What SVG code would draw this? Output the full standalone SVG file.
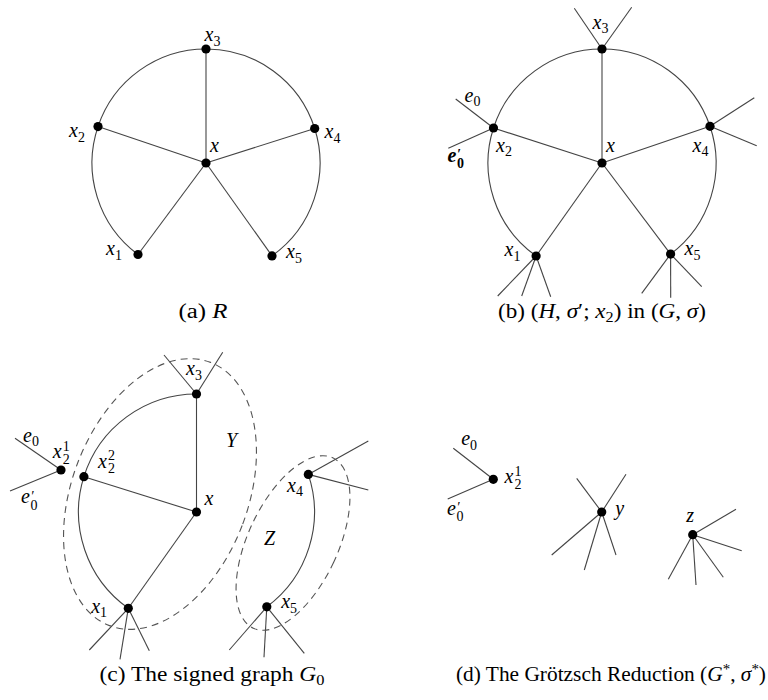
<svg xmlns="http://www.w3.org/2000/svg" width="768" height="700" viewBox="0 0 768 700">
<style>
.e{stroke:#444;stroke-width:1.1;fill:none}
.d{stroke:#555;stroke-width:1.1;fill:none;stroke-dasharray:7 5}
.n{fill:#000}
.t{font-family:"Liberation Serif",serif;font-style:italic;font-size:20px;fill:#000}
.b{font-weight:bold}
.s{font-style:normal;font-size:14px}
.c{font-family:"Liberation Serif",serif;font-size:20px;fill:#000}
.i{font-style:italic}
</style>
<rect width="768" height="700" fill="#fff"/>

<!-- Panel (a) -->
<g id="panel-a-edges" class="connectors">
<path class="e" d="M138 254.5 A114 114 0 0 1 98 126.6"/>
<path class="e" d="M98 126.6 A114 114 0 0 1 206 49"/>
<path class="e" d="M206 49 A114 114 0 0 1 314.7 128.5"/>
<path class="e" d="M314.7 128.5 A114 114 0 0 1 272 255.9"/>
<line class="e" x1="206" y1="163" x2="206" y2="49"/>
<line class="e" x1="206" y1="163" x2="98" y2="126.6"/>
<line class="e" x1="206" y1="163" x2="314.7" y2="128.5"/>
<line class="e" x1="206" y1="163" x2="138" y2="254.5"/>
<line class="e" x1="206" y1="163" x2="272" y2="255.9"/>
</g>
<g id="a-x"><circle class="n" cx="206" cy="163" r="4.6"/><text class="t" x="210" y="151.5">x</text></g>
<g id="a-x3"><circle class="n" cx="206" cy="49" r="4.6"/><text class="t" x="204.5" y="41">x<tspan class="s" dy="4.5">3</tspan></text></g>
<g id="a-x2"><circle class="n" cx="98" cy="126.6" r="4.6"/><text class="t" x="69" y="137">x<tspan class="s" dy="4.5">2</tspan></text></g>
<g id="a-x4"><circle class="n" cx="314.7" cy="128.5" r="4.6"/><text class="t" x="324.5" y="138">x<tspan class="s" dy="4.5">4</tspan></text></g>
<g id="a-x1"><circle class="n" cx="138" cy="254.5" r="4.6"/><text class="t" x="106" y="255">x<tspan class="s" dy="4.5">1</tspan></text></g>
<g id="a-x5"><circle class="n" cx="272" cy="255.9" r="4.6"/><text class="t" x="286" y="258">x<tspan class="s" dy="4.5">5</tspan></text></g>
<text class="c" x="203" y="318" text-anchor="middle" textLength="49" lengthAdjust="spacingAndGlyphs">(a) <tspan class="i">R</tspan></text>

<!-- Panel (b) -->
<g id="panel-b-edges" class="connectors">
<path class="e" d="M536.1 256 A114 114 0 0 1 493.5 128"/>
<path class="e" d="M493.5 128 A114 114 0 0 1 602 49"/>
<path class="e" d="M602 49 A114 114 0 0 1 710 126.3"/>
<path class="e" d="M710 126.3 A114 114 0 0 1 670.6 254.1"/>
<line class="e" x1="602" y1="163" x2="602" y2="49"/>
<line class="e" x1="602" y1="163" x2="493.5" y2="128"/>
<line class="e" x1="602" y1="163" x2="710" y2="126.3"/>
<line class="e" x1="602" y1="163" x2="536.1" y2="256"/>
<line class="e" x1="602" y1="163" x2="670.6" y2="254.1"/>
<line class="e" x1="602" y1="49" x2="574.3" y2="8.3"/>
<line class="e" x1="602" y1="49" x2="631.7" y2="7.3"/>
<line class="e" x1="493.5" y1="128" x2="455.7" y2="99"/>
<line class="e" x1="493.5" y1="128" x2="448.3" y2="148.3"/>
<line class="e" x1="710" y1="126.3" x2="754.3" y2="97.7"/>
<line class="e" x1="710" y1="126.3" x2="756.7" y2="145.7"/>
<line class="e" x1="536.1" y1="256" x2="497.7" y2="296"/>
<line class="e" x1="536.1" y1="256" x2="521.7" y2="296"/>
<line class="e" x1="536.1" y1="256" x2="550.7" y2="296.7"/>
<line class="e" x1="670.6" y1="254.1" x2="641.7" y2="293.3"/>
<line class="e" x1="670.6" y1="254.1" x2="670.7" y2="297.7"/>
<line class="e" x1="670.6" y1="254.1" x2="701.7" y2="286.7"/>
</g>
<g id="b-x"><circle class="n" cx="602" cy="163" r="4.6"/><text class="t" x="606" y="151.5">x</text></g>
<g id="b-x3"><circle class="n" cx="602" cy="49" r="4.6"/><text class="t" x="592.5" y="28.5">x<tspan class="s" dy="4.5">3</tspan></text></g>
<g id="b-x2"><circle class="n" cx="493.5" cy="128" r="4.6"/><text class="t" x="496" y="151.5">x<tspan class="s" dy="4.5">2</tspan></text>
<text class="t" x="464.5" y="101.5">e<tspan class="s" dy="4.5">0</tspan></text>
<text class="t b" x="447.5" y="161.7">e<tspan x="457" y="159" font-size="14">′</tspan><tspan class="s" x="457" y="168">0</tspan></text></g>
<g id="b-x4"><circle class="n" cx="710" cy="126.3" r="4.6"/><text class="t" x="692.5" y="151.5">x<tspan class="s" dy="4.5">4</tspan></text></g>
<g id="b-x1"><circle class="n" cx="536.1" cy="256" r="4.6"/><text class="t" x="504.5" y="256">x<tspan class="s" dy="4.5">1</tspan></text></g>
<g id="b-x5"><circle class="n" cx="670.6" cy="254.1" r="4.6"/><text class="t" x="684.5" y="255">x<tspan class="s" dy="4.5">5</tspan></text></g>
<text class="c" x="602" y="318" text-anchor="middle" textLength="208" lengthAdjust="spacingAndGlyphs">(b) (<tspan class="i">H</tspan>, <tspan class="i">σ</tspan>′; <tspan class="i">x</tspan><tspan font-size="14" dy="4">2</tspan><tspan dy="-4">) in (</tspan><tspan class="i">G</tspan>, <tspan class="i">σ</tspan>)</text>

<!-- Panel (c) -->
<g id="panel-c-edges" class="connectors">
<path class="e" d="M196.5 394 A118 118 0 0 0 83.9 476.7"/>
<path class="e" d="M83.9 476.7 A118 118 0 0 0 128.3 608.3"/>
<path class="e" d="M308.3 474.4 A118 118 0 0 1 266.8 606.8"/>
<line class="e" x1="196.5" y1="512" x2="196.5" y2="394"/>
<line class="e" x1="196.5" y1="512" x2="83.9" y2="476.7"/>
<line class="e" x1="196.5" y1="512" x2="128.3" y2="608.3"/>
<line class="e" x1="196.5" y1="394" x2="164" y2="355"/>
<line class="e" x1="196.5" y1="394" x2="222.7" y2="352.3"/>
<line class="e" x1="61" y1="470" x2="15" y2="438.3"/>
<line class="e" x1="61" y1="470" x2="10" y2="491"/>
<line class="e" x1="308.3" y1="474.4" x2="368.3" y2="441"/>
<line class="e" x1="308.3" y1="474.4" x2="368.3" y2="490"/>
<line class="e" x1="128.3" y1="608.3" x2="89.3" y2="650"/>
<line class="e" x1="128.3" y1="608.3" x2="120" y2="659.3"/>
<line class="e" x1="128.3" y1="608.3" x2="149.3" y2="650.7"/>
<line class="e" x1="266.8" y1="606.8" x2="229.3" y2="650"/>
<line class="e" x1="266.8" y1="606.8" x2="264" y2="657.3"/>
<line class="e" x1="266.8" y1="606.8" x2="304.3" y2="653.3"/>
</g>
<g id="c-Y"><ellipse class="d" cx="160" cy="494" rx="88" ry="141" transform="rotate(21 160 494)"/><text class="t" x="226" y="447.3" font-size="21">Y</text></g>
<g id="c-Z"><ellipse class="d" cx="293" cy="543" rx="45" ry="94" transform="rotate(25 293 543)"/><text class="t" x="264" y="545" font-size="21">Z</text></g>
<g id="c-x"><circle class="n" cx="196.5" cy="512" r="4.6"/><text class="t" x="204.5" y="505">x</text></g>
<g id="c-x3"><circle class="n" cx="196.5" cy="394" r="4.6"/><text class="t" x="186" y="375">x<tspan class="s" dy="4.5">3</tspan></text></g>
<g id="c-x22"><circle class="n" cx="83.9" cy="476.7" r="4.6"/><text class="t" x="98" y="467.5">x<tspan class="s" x="108" y="460">2</tspan><tspan class="s" x="108" y="473">2</tspan></text></g>
<g id="c-x21"><circle class="n" cx="61" cy="470" r="4.6"/><text class="t" x="52.8" y="458.3">x<tspan class="s" x="62.8" y="451">1</tspan><tspan class="s" x="62.8" y="464">2</tspan></text>
<text class="t" x="23" y="441.7">e<tspan class="s" dy="4.5">0</tspan></text>
<text class="t" x="21" y="503.3">e<tspan x="30.5" y="500.6" font-size="14">′</tspan><tspan class="s" x="30.5" y="509.6">0</tspan></text></g>
<g id="c-x4"><circle class="n" cx="308.3" cy="474.4" r="4.6"/><text class="t" x="287" y="491.7">x<tspan class="s" dy="4.5">4</tspan></text></g>
<g id="c-x1"><circle class="n" cx="128.3" cy="608.3" r="4.6"/><text class="t" x="91.2" y="612.7">x<tspan class="s" dy="4.5">1</tspan></text></g>
<g id="c-x5"><circle class="n" cx="266.8" cy="606.8" r="4.6"/><text class="t" x="281.2" y="608.3">x<tspan class="s" dy="4.5">5</tspan></text></g>
<text class="c" x="212" y="681" text-anchor="middle" textLength="225" lengthAdjust="spacingAndGlyphs">(c) The signed graph <tspan class="i">G</tspan><tspan font-size="14" dy="4">0</tspan></text>

<!-- Panel (d) -->
<g id="panel-d-edges" class="connectors">
<line class="e" x1="493.3" y1="479.3" x2="453.3" y2="448.3"/>
<line class="e" x1="493.3" y1="479.3" x2="447.7" y2="499"/>
<line class="e" x1="601.7" y1="512" x2="576.7" y2="478.3"/>
<line class="e" x1="601.7" y1="512" x2="626" y2="474.3"/>
<line class="e" x1="601.7" y1="512" x2="551.7" y2="555"/>
<line class="e" x1="601.7" y1="512" x2="584.3" y2="570"/>
<line class="e" x1="601.7" y1="512" x2="616" y2="555"/>
<line class="e" x1="692.7" y1="534.7" x2="736" y2="509.3"/>
<line class="e" x1="692.7" y1="534.7" x2="741.7" y2="550.7"/>
<line class="e" x1="692.7" y1="534.7" x2="723.3" y2="577.3"/>
<line class="e" x1="692.7" y1="534.7" x2="696" y2="585"/>
<line class="e" x1="692.7" y1="534.7" x2="668.3" y2="579.3"/>
</g>
<g id="d-x21"><circle class="n" cx="493.3" cy="479.3" r="4.6"/><text class="t" x="504.5" y="483.3">x<tspan class="s" x="514.5" y="476">1</tspan><tspan class="s" x="514.5" y="489">2</tspan></text>
<text class="t" x="461.2" y="445">e<tspan class="s" dy="4.5">0</tspan></text>
<text class="t" x="447" y="515">e<tspan x="456.5" y="512.3" font-size="14">′</tspan><tspan class="s" x="456.5" y="521.3">0</tspan></text></g>
<g id="d-y"><circle class="n" cx="601.7" cy="512" r="4.6"/><text class="t" x="615.2" y="515">y</text></g>
<g id="d-z"><circle class="n" cx="692.7" cy="534.7" r="4.6"/><text class="t" x="686.2" y="521.7">z</text></g>
<text class="c" x="766" y="681" text-anchor="end" textLength="310" lengthAdjust="spacingAndGlyphs">(d) The Grötzsch Reduction (<tspan class="i">G</tspan><tspan font-size="14" dy="-7">*</tspan><tspan dy="7">, </tspan><tspan class="i">σ</tspan><tspan font-size="14" dy="-7">*</tspan><tspan dy="7">)</tspan></text>
</svg>
